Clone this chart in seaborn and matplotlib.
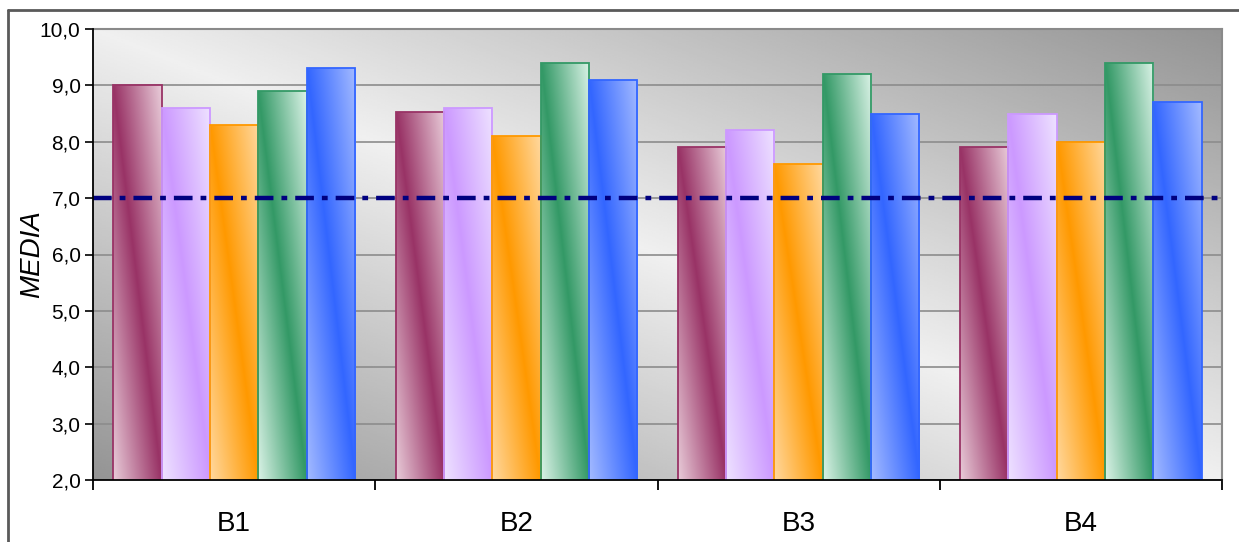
import numpy as np
import pandas as pd
import matplotlib
matplotlib.use("Agg")
import matplotlib.pyplot as plt
import seaborn as sns
from matplotlib.colors import LinearSegmentedColormap
from matplotlib.ticker import FixedLocator, FuncFormatter
from matplotlib.lines import Line2D
from matplotlib import font_manager

# ---- data ----
groups = ["B1", "B2", "B3", "B4"]
series = ["S1", "S2", "S3", "S4", "S5"]
s1 = [9.0, 8.53, 7.9, 7.9]
s2 = [8.6, 8.6, 8.2, 8.5]
s3 = [8.3, 8.1, 7.6, 8.0]
s4 = [8.9, 9.4, 9.2, 9.4]
s5 = [9.3, 9.1, 8.5, 8.7]
reference_value = 7.0
y_ticks = [2, 3, 4, 5, 6, 7, 8, 9, 10]

dark_colors = ["#993366", "#CC99FF", "#FF9900", "#339966", "#3366FF"]
light_colors = ["#E8CBD8", "#EEE2FF", "#FFD89E", "#DAF2E6", "#A3BAFF"]

values = [s1, s2, s3, s4, s5]
df = pd.DataFrame({
    "grupo": [g for s in series for g in groups],
    "serie": [s for s in series for g in groups],
    "media": [v for vals in values for v in vals],
})

sns.set_theme(style="white")
names = {f.name for f in font_manager.fontManager.ttflist}
main_font = "Liberation Sans Narrow" if "Liberation Sans Narrow" in names else "Liberation Sans"
plt.rcParams["font.family"] = [main_font, "DejaVu Sans"]

W, H = 1239, 542
fig = plt.figure(figsize=(W / 100, H / 100), dpi=100)
ax = fig.add_axes([93 / W, 62 / H, (1222 - 93) / W, (480 - 29) / H])

sns.barplot(data=df, x="grupo", y="media", hue="serie", palette=dark_colors,
            saturation=1, width=0.855, legend=False, ax=ax, zorder=3,
            linewidth=0)

ymin, ymax = 2.0, 10.0
ax.set_ylim(ymin, ymax)
ax.set_xlim(-0.5, len(groups) - 0.5)

# background gradient (light along TL-BR diagonal, dark at BL and TR corners)
n = 300
xx, vv = np.meshgrid(np.linspace(0, 1, n), np.linspace(0, 1, n))  # vv: top->bottom
d = np.abs(xx - vv)
light_bg, dark_bg = 0.94, 0.58
bg = light_bg - (light_bg - dark_bg) * d
ax.imshow(bg, cmap="gray", vmin=0, vmax=1, extent=[0, 1, 0, 1],
          transform=ax.transAxes, aspect="auto", zorder=0, interpolation="bilinear")

# gridlines
for t in y_ticks:
    ax.axhline(t, color="#8c8c8c", lw=1.2, zorder=1)

# gradient bars: dark band along the top-left -> bottom-right diagonal
m = 200
bx, bt = np.meshgrid(np.linspace(0, 1, 60), np.linspace(0, 1, m))
grad = np.clip(np.abs(bx - bt), 0, 1)
for i, cont in enumerate(ax.containers):
    cmap = LinearSegmentedColormap.from_list(f"c{i}", [dark_colors[i], light_colors[i]])
    for p in cont.patches:
        x0, w = p.get_x(), p.get_width()
        top = p.get_y() + p.get_height()
        bottom = max(p.get_y(), ymin)
        p.set_facecolor("none")
        p.set_edgecolor(dark_colors[i])
        p.set_linewidth(1.3)
        p.set_zorder(4)
        im = ax.imshow(grad, cmap=cmap, vmin=0, vmax=1,
                       extent=[x0, x0 + w, bottom, top], aspect="auto",
                       zorder=3, interpolation="bilinear")
        im.set_clip_path(p)

ax.set_ylim(ymin, ymax)
ax.set_xlim(-0.5, len(groups) - 0.5)

# reference line
ax.axhline(reference_value, color="#000080", lw=3.2,
           linestyle=(0, (4.2, 1.8, 1.3, 1.8)), zorder=5)

# axes styling
for side in ["top", "right"]:
    ax.spines[side].set_color("#8a8a8a")
    ax.spines[side].set_linewidth(1.5)
for side in ["left", "bottom"]:
    ax.spines[side].set_color("black")
    ax.spines[side].set_linewidth(1.3)
    ax.spines[side].set_zorder(6)

ax.yaxis.set_major_locator(FixedLocator(y_ticks))
ax.yaxis.set_major_formatter(FuncFormatter(lambda v, _: f"{v:.1f}".replace(".", ",")))
ax.tick_params(axis="y", which="major", left=True, length=6, width=1.2,
               color="black", labelsize=15, pad=3, direction="out")

ax.xaxis.set_major_locator(FixedLocator(np.arange(len(groups) + 1) - 0.5))
ax.xaxis.set_major_formatter(FuncFormatter(lambda v, _: ""))
ax.xaxis.set_minor_locator(FixedLocator(np.arange(len(groups))))
ax.xaxis.set_minor_formatter(FuncFormatter(lambda v, _: groups[int(round(v))]))
ax.tick_params(axis="x", which="major", bottom=True, length=7, width=1.3,
               color="black", direction="out")
ax.tick_params(axis="x", which="minor", bottom=False, length=0, labelsize=20, pad=22)
for lbl in ax.get_xticklabels(minor=True) + ax.get_yticklabels():
    lbl.set_color("black")
ax.set_xlabel("")
ax.set_ylabel("MEDIA", fontsize=20, fontstyle="italic", color="black")
ax.yaxis.set_label_coords((45 - 93) / (1222 - 93), 0.5)

# outer chart frame
fig.add_artist(Line2D([8 / W, 8 / W], [0, 1 - 10 / H], transform=fig.transFigure,
                      color="#5a5a5a", lw=2))
fig.add_artist(Line2D([8 / W, 1], [1 - 10 / H, 1 - 10 / H], transform=fig.transFigure,
                      color="#5a5a5a", lw=2))

fig.savefig("out.png", dpi=100, facecolor="white")
